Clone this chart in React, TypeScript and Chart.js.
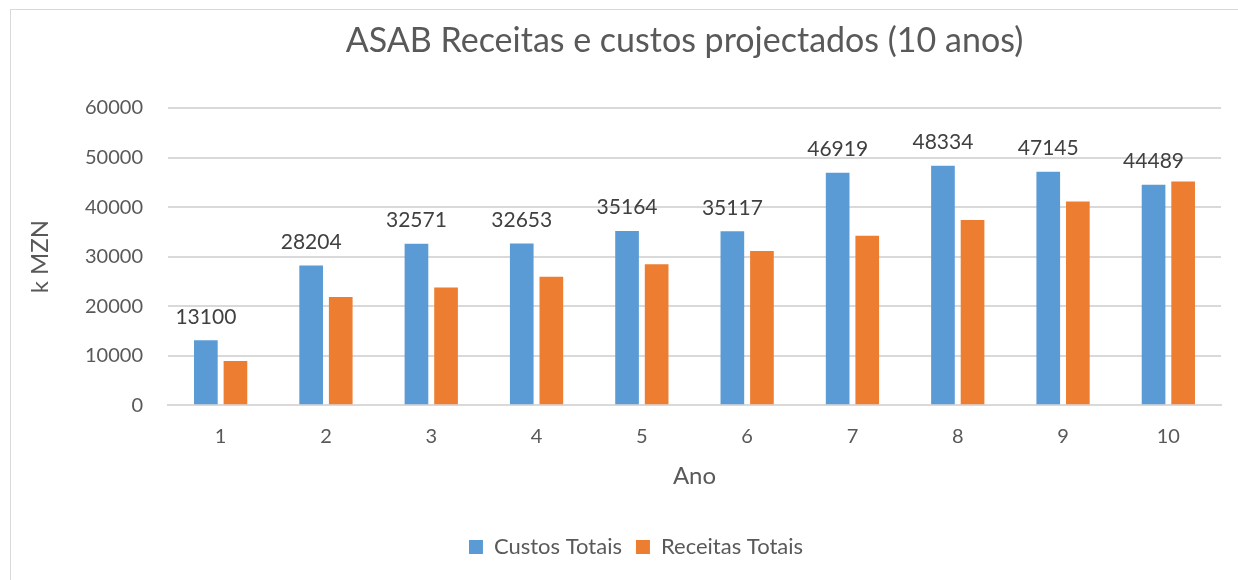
import React, { useEffect, useRef } from "react";
import { Chart, registerables } from "chart.js";

Chart.register(...registerables);

const chartTitle = "ASAB Receitas e custos projectados (10 anos)";
const years = ["1", "2", "3", "4", "5", "6", "7", "8", "9", "10"];
const custosTotais = [13100, 28204, 32571, 32653, 35164, 35117, 46919, 48334, 47145, 44489];
const receitasTotais = [8900, 21850, 23750, 25950, 28450, 31150, 34200, 37400, 41100, 45150];
const yTicks = [0, 10000, 20000, 30000, 40000, 50000, 60000];

const FONT = "Lato, 'Open Sans', sans-serif";
const TEXT = "#595959";

const titlePlugin = {
  id: "customTitle",
  afterDraw(chart: any) {
    const { ctx, chartArea } = chart;
    ctx.save();
    ctx.font = `34px ${FONT}`;
    ctx.fillStyle = TEXT;
    ctx.textAlign = "center";
    ctx.textBaseline = "middle";
    ctx.fillText(chartTitle, (chartArea.left + chartArea.right) / 2 - 10, 31);
    ctx.restore();
  },
};

const dataLabelPlugin = {
  id: "dataLabels",
  afterDatasetsDraw(chart: any) {
    const { ctx } = chart;
    const meta = chart.getDatasetMeta(0);
    ctx.save();
    ctx.font = `21px ${FONT}`;
    ctx.fillStyle = "#404040";
    ctx.textAlign = "center";
    ctx.textBaseline = "bottom";
    meta.data.forEach((bar: any, i: number) => {
      ctx.fillText(String(custosTotais[i]), bar.x, bar.y - 13);
    });
    ctx.restore();
  },
};

const legendShiftPlugin = {
  id: "legendShift",
  afterLayout(chart: any) {
    if (chart.legend) {
      chart.legend.left += 20;
      chart.legend.right += 20;
    }
  },
};

export default function App() {
  const canvasRef = useRef<HTMLCanvasElement | null>(null);

  useEffect(() => {
    if (!canvasRef.current) return;
    const chart = new Chart(canvasRef.current, {
      type: "bar",
      data: {
        labels: years,
        datasets: [
          {
            label: "Custos Totais",
            data: custosTotais,
            backgroundColor: "#5B9BD5",
            categoryPercentage: 0.562,
            barPercentage: 0.8,
          },
          {
            label: "Receitas Totais",
            data: receitasTotais,
            backgroundColor: "#ED7D31",
            categoryPercentage: 0.562,
            barPercentage: 0.8,
          },
        ],
      },
      options: {
        animation: false,
        responsive: true,
        maintainAspectRatio: false,
        layout: { padding: { top: 98, right: 17, bottom: 12, left: 0 } },
        plugins: {
          title: { display: false },
          tooltip: { enabled: false },
          legend: {
            position: "bottom",
            labels: {
              boxWidth: 14,
              boxHeight: 14,
              color: TEXT,
              font: { family: FONT, size: 22 },
              padding: 14,
            },
          },
        },
        scales: {
          x: {
            grid: { display: false, drawTicks: false },
            border: { color: "#d9d9d9", width: 2 },
            ticks: { color: TEXT, font: { family: FONT, size: 20 }, padding: 19 },
            title: {
              display: true,
              text: "Ano",
              color: TEXT,
              font: { family: FONT, size: 24 },
              padding: { top: -5, bottom: 31 },
            },
          },
          y: {
            min: 0,
            max: 60000,
            afterBuildTicks(scale: any) {
              scale.ticks = yTicks.map((v) => ({ value: v }));
            },
            afterFit(scale: any) {
              scale.width = 157;
            },
            grid: { color: "#d9d9d9", lineWidth: 2, drawTicks: false },
            border: { display: false },
            ticks: {
              color: TEXT,
              font: { family: FONT, size: 20 },
              padding: 25,
              callback: (v: any) => String(v),
            },
            title: {
              display: true,
              text: "k MZN",
              color: TEXT,
              font: { family: FONT, size: 24 },
              padding: { top: 15, bottom: 0 },
            },
          },
        },
      },
      plugins: [titlePlugin, dataLabelPlugin, legendShiftPlugin],
    });
    return () => chart.destroy();
  }, []);

  return (
    <div
      style={{
        position: "absolute",
        left: 10,
        top: 9,
        width: 1228,
        height: 571,
        borderTop: "1px solid #d9d9d9",
        borderLeft: "1px solid #d9d9d9",
        boxSizing: "border-box",
        background: "#fff",
      }}
    >
      <canvas ref={canvasRef} />
    </div>
  );
}
